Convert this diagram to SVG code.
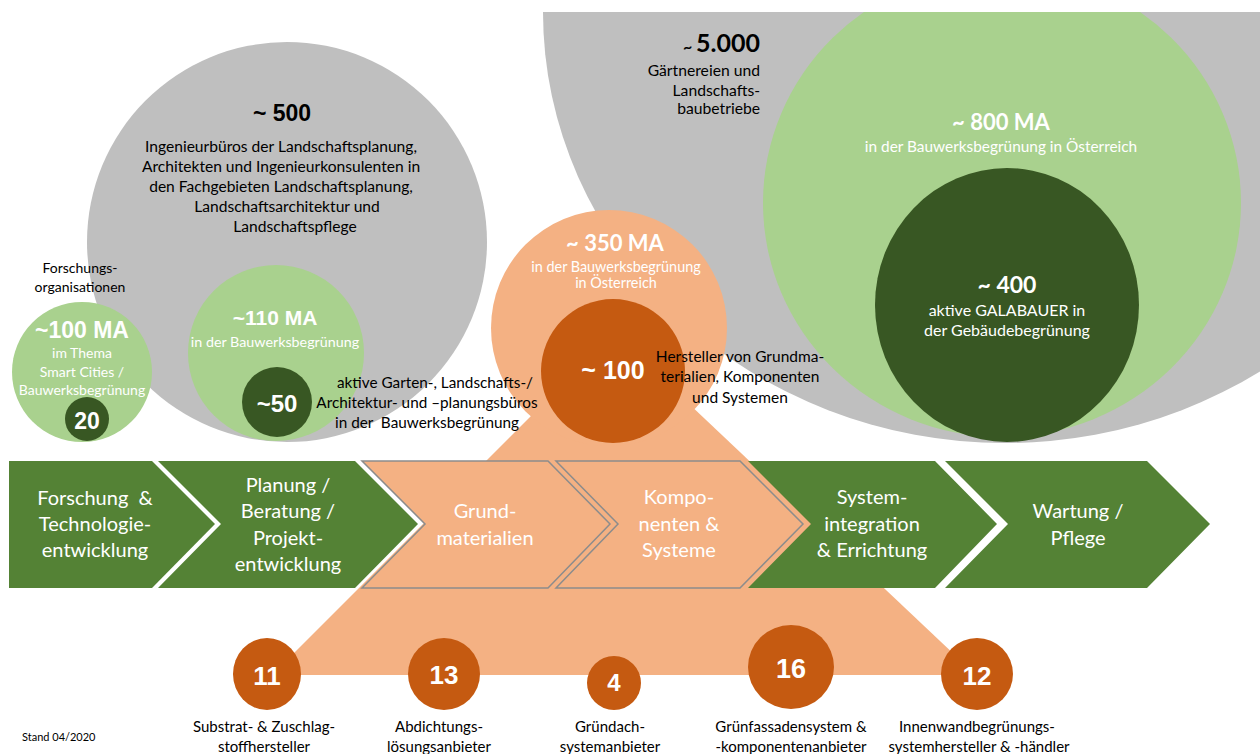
<svg xmlns="http://www.w3.org/2000/svg" width="1260" height="754" viewBox="0 0 1260 754">
<defs>
<clipPath id="topclip"><rect x="0" y="12" width="1260" height="742"/></clipPath>
<style>
.gray{fill:#bfbfbf}
.lg{fill:#a9d18e}
.dg{fill:#385723}
.cg{fill:#548235}
.lo{fill:#f4b183}
.do{fill:#c55a11}
.t{font-family:Lato,'Liberation Sans',sans-serif;text-anchor:middle}
.b{font-family:'Liberation Sans',Arial,sans-serif;font-weight:bold;text-anchor:middle;fill:#fff}
.lb{font-family:Lato,'Liberation Sans',sans-serif;font-weight:bold;text-anchor:middle;fill:#fff}
.w{fill:#fff}
.k{fill:#000}
.ch{font-size:20px}
.sm{font-size:14px}
.lab{font-size:15px}
.pre{white-space:pre}
</style>
</defs>
<rect width="1260" height="754" fill="#fff"/>

<g id="gardeners">
<path class="gray" d="M543 12 A462 431 0 0 0 1467 12 Z"/>
<text class="lb k" x="760" y="52" font-size="25" style="text-anchor:end;fill:#000"><tspan font-size="16">~ </tspan>5.000</text>
<text class="t k" x="760" y="76" font-size="15.7" style="text-anchor:end">Gärtnereien und</text>
<text class="t k" x="760" y="96" font-size="15.7" style="text-anchor:end">Landschafts-</text>
<text class="t k" x="760" y="114" font-size="15.7" style="text-anchor:end">baubetriebe</text>
</g>

<g id="ma800">
<ellipse class="lg" cx="1002" cy="203" rx="239" ry="234" clip-path="url(#topclip)"/>
<text class="lb" x="1001" y="130" font-size="22">~ 800 MA</text>
<text class="t w" x="1001" y="152" font-size="15.4">in der Bauwerksbegrünung in Österreich</text>
</g>

<g id="galabauer">
<ellipse class="dg" cx="1007" cy="305" rx="132" ry="137"/>
<text class="lb" x="1007" y="293" font-size="23">~ 400</text>
<text class="t w" x="1007" y="316" font-size="16">aktive GALABAUER in</text>
<text class="t w" x="1007" y="336" font-size="16">der Gebäudebegrünung</text>
</g>

<g id="planners">
<circle class="gray" cx="287" cy="242" r="200"/>
<text class="b" x="282" y="121" font-size="23" style="fill:#000">~ 500</text>
<text class="t k" x="281" y="152" font-size="15.6">Ingenieurbüros der Landschaftsplanung,</text>
<text class="t k" x="281" y="172" font-size="15.6">Architekten und Ingenieurkonsulenten in</text>
<text class="t k" x="281" y="192" font-size="15.6">den Fachgebieten Landschaftsplanung,</text>
<text class="t k" x="287" y="212" font-size="15.6">Landschaftsarchitektur und</text>
<text class="t k" x="295" y="232" font-size="15.6">Landschaftspflege</text>
</g>

<g id="research">
<circle class="lg" cx="82" cy="372" r="70"/>
<text class="b" x="82" y="338" font-size="23">~100 MA</text>
<text class="t w sm" x="82" y="358">im Thema</text>
<text class="t w sm" x="82" y="377">Smart Cities /</text>
<text class="t w sm" x="82" y="395">Bauwerksbegrünung</text>
</g>
<g id="research20">
<circle class="dg" cx="87" cy="419" r="22"/>
<text class="b" x="87" y="429" font-size="23">20</text>
</g>

<g id="ma110">
<circle class="lg" cx="276" cy="353" r="88"/>
<text class="b" x="275" y="325" font-size="21">~110 MA</text>
<text class="t w" x="275" y="347" font-size="14.3">in der Bauwerksbegrünung</text>
</g>
<g id="offices50">
<circle class="dg" cx="277" cy="402" r="35"/>
<text class="b" x="277" y="412" font-size="24">~50</text>
</g>

<g id="manufacturers-triangle">
<polygon class="lo" points="614,333 272,675 976,675"/>
</g>

<g id="ma350">
<circle class="lo" cx="609" cy="328" r="118"/>
<text class="lb" x="615" y="251" font-size="22">~ 350 MA</text>
<text class="t w" x="616" y="272" font-size="14.4">in der Bauwerksbegrünung</text>
<text class="t w" x="616" y="288" font-size="14.4">in Österreich</text>
</g>
<g id="manufacturers100">
<circle class="do" cx="613" cy="371" r="72"/>
<text class="b" x="613" y="379" font-size="25">~ 100</text>
</g>

<g id="step1">
<polygon class="cg" points="9,461 152,461 215,524 152,588 9,588"/>
<text class="t w ch pre" x="95" y="505" xml:space="preserve">Forschung  &amp;</text>
<text class="t w ch" x="95" y="531">Technologie-</text>
<text class="t w ch" x="95" y="557">entwicklung</text>
</g>
<g id="step2">
<polygon class="cg" points="158,461 355,461 418,524 355,588 158,588 221,524"/>
<text class="t w ch" x="288" y="492">Planung /</text>
<text class="t w ch" x="288" y="518">Beratung /</text>
<text class="t w ch" x="288" y="545">Projekt-</text>
<text class="t w ch" x="288" y="571">entwicklung</text>
</g>
<g id="step3">
<polygon class="lo" stroke="#8c8c8c" stroke-width="1.5" points="362,461 548,461 610,524 548,588 362,588 425,524"/>
<text class="t w ch" x="485" y="518">Grund-</text>
<text class="t w ch" x="485" y="545">materialien</text>
</g>
<g id="step4">
<polygon class="lo" stroke="#8c8c8c" stroke-width="1.5" points="556,461 740,461 803,524 740,588 556,588 618,524"/>
<text class="t w ch" x="679" y="504">Kompo-</text>
<text class="t w ch" x="679" y="531">nenten &amp;</text>
<text class="t w ch" x="679" y="557">Systeme</text>
</g>
<g id="step5">
<polygon class="cg" points="748,461 935,461 997,524 935,588 748,588 811,524"/>
<text class="t w ch" x="872" y="504">System-</text>
<text class="t w ch" x="872" y="531">integration</text>
<text class="t w ch" x="872" y="557">&amp; Errichtung</text>
</g>
<g id="step6">
<polygon class="cg" points="945,461 1147,461 1210,524 1147,588 945,588 1008,524"/>
<text class="t w ch" x="1078" y="518">Wartung /</text>
<text class="t w ch" x="1078" y="545">Pflege</text>
</g>

<g id="cat11">
<ellipse class="do" cx="267" cy="674" rx="34" ry="36"/>
<text class="b" x="267" y="685" font-size="26">11</text>
<text class="t k lab" x="264" y="732">Substrat- &amp; Zuschlag-</text>
<text class="t k lab" x="264" y="752">stoffhersteller</text>
</g>
<g id="cat13">
<ellipse class="do" cx="444" cy="674" rx="36" ry="36"/>
<text class="b" x="444" y="684" font-size="26">13</text>
<text class="t k lab" x="439" y="732">Abdichtungs-</text>
<text class="t k lab" x="439" y="752">lösungsanbieter</text>
</g>
<g id="cat4">
<ellipse class="do" cx="614" cy="683" rx="27" ry="27"/>
<text class="b" x="614" y="691" font-size="24">4</text>
<text class="t k lab" x="610" y="732">Gründach-</text>
<text class="t k lab" x="610" y="752">systemanbieter</text>
</g>
<g id="cat16">
<ellipse class="do" cx="791" cy="667" rx="43" ry="42"/>
<text class="b" x="791" y="678" font-size="27">16</text>
<text class="t k lab" x="791" y="732">Grünfassadensystem &amp;</text>
<text class="t k lab" x="791" y="752">-komponentenanbieter</text>
</g>
<g id="cat12">
<ellipse class="do" cx="977" cy="674" rx="36" ry="36"/>
<text class="b" x="977" y="685" font-size="26">12</text>
<text class="t k lab" x="977" y="732">Innenwandbegrünungs-</text>
<text class="t k lab" x="979" y="752">systemhersteller &amp; -händler</text>
</g>

<g id="research-label">
<text class="t k sm" x="80" y="273">Forschungs-</text>
<text class="t k sm" x="80" y="292">organisationen</text>
</g>
<g id="offices-label">
<text class="t k" x="435" y="388" font-size="15.3">aktive Garten-, Landschafts-/</text>
<text class="t k" x="427" y="408" font-size="15.3">Architektur- und –planungsbüros</text>
<text class="t k pre" x="427" y="428" font-size="15.3" xml:space="preserve">in der  Bauwerksbegrünung</text>
</g>
<g id="manufacturers-label">
<text class="t k" x="740" y="362" font-size="15.5">Hersteller von Grundma-</text>
<text class="t k" x="740" y="382" font-size="15.5">terialien, Komponenten</text>
<text class="t k" x="740" y="403" font-size="15.5">und Systemen</text>
</g>

<g id="connectors"></g>

<text x="22" y="741" font-family="Lato,'Liberation Sans',sans-serif" font-size="11" fill="#000">Stand 04/2020</text>
</svg>
